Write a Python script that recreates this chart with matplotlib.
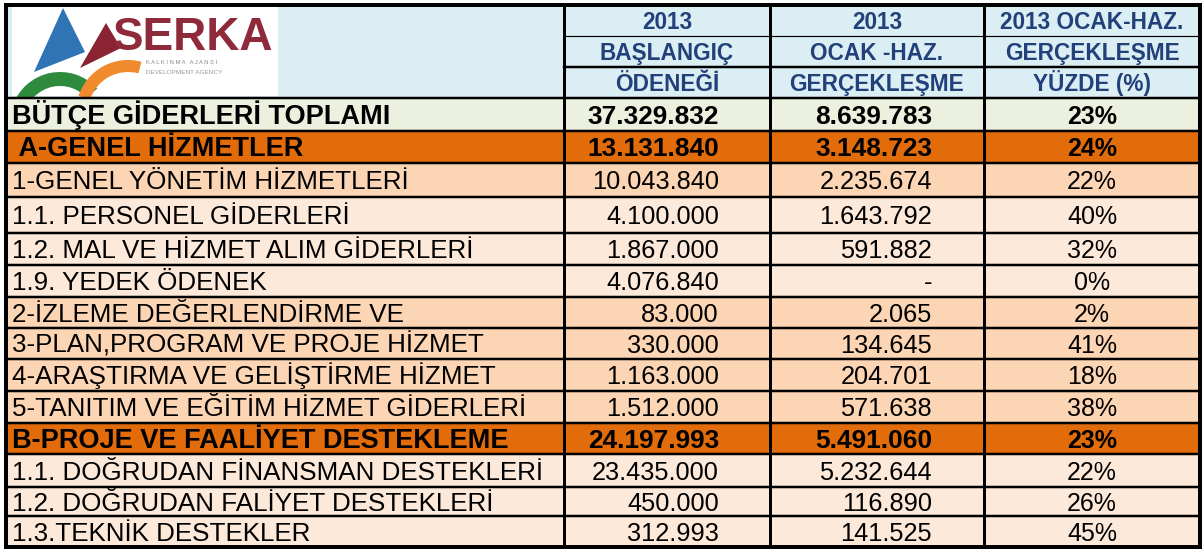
# SERKA 2013 butce tablosu (Ocak-Haziran gerceklesme)
import matplotlib
matplotlib.use("Agg")
import matplotlib.pyplot as plt
from matplotlib.patches import Rectangle, Polygon, Wedge

plt.rcParams['font.family'] = ['Liberation Sans', 'DejaVu Sans']

# ---- data ----
labels = [
    "BÜTÇE GİDERLERİ TOPLAMI",
    " A-GENEL HİZMETLER",
    "1-GENEL YÖNETİM HİZMETLERİ",
    "1.1. PERSONEL GİDERLERİ",
    "1.2. MAL VE HİZMET ALIM GİDERLERİ",
    "1.9. YEDEK ÖDENEK",
    "2-İZLEME DEĞERLENDİRME VE",
    "3-PLAN,PROGRAM VE PROJE HİZMET",
    "4-ARAŞTIRMA VE GELİŞTİRME HİZMET",
    "5-TANITIM VE EĞİTİM HİZMET GİDERLERİ",
    "B-PROJE VE FAALİYET DESTEKLEME",
    "1.1. DOĞRUDAN FİNANSMAN DESTEKLERİ",
    "1.2. DOĞRUDAN FALİYET DESTEKLERİ",
    "1.3.TEKNİK DESTEKLER",
]
baslangic = [37329832, 13131840, 10043840, 4100000, 1867000, 4076840, 83000,
             330000, 1163000, 1512000, 24197993, 23435000, 450000, 312993]
gerceklesme = [8639783, 3148723, 2235674, 1643792, 591882, None, 2065,
               134645, 204701, 571638, 5491060, 5232644, 116890, 141525]
yuzde = ["23%", "24%", "22%", "40%", "32%", "0%", "2%",
         "41%", "18%", "38%", "23%", "22%", "26%", "45%"]
kind = ["total", "main", "group", "item", "item", "item", "group",
        "group", "group", "group", "main", "item", "item", "item"]

hdr_col2 = ["2013", "BAŞLANGIÇ", "ÖDENEĞİ"]
hdr_col3 = ["2013", "OCAK -HAZ.", "GERÇEKLEŞME"]
hdr_col4 = ["2013 OCAK-HAZ.", "GERÇEKLEŞME", "YÜZDE (%)"]

# ---- layout / style ----
col_x = [6, 564, 770, 984, 1200]
hdr_y = [5, 36, 67, 98]
row_y = [98, 131, 163, 197, 233, 265, 297, 328, 359, 391, 423, 454, 487, 516, 547]

fill = {"total": "#EBF1DE", "main": "#E26B0A", "group": "#FCD5B4", "item": "#FDE9D9"}
bold = {"total": True, "main": True, "group": False, "item": False}
hdr_bg = "#DBEEF4"
hdr_fg = "#22407A"
hfs = 16.3

def fmt(v):
    if v is None:
        return "-"
    return f"{v:,}".replace(",", ".")

fig = plt.figure(figsize=(12.04, 5.49), dpi=100)
ax = fig.add_axes([0, 0, 1, 1])
ax.set_xlim(0, 1204)
ax.set_ylim(549, 0)
ax.axis('off')

# header background
ax.add_patch(Rectangle((col_x[0], hdr_y[0]), col_x[-1] - col_x[0], hdr_y[-1] - hdr_y[0],
                       facecolor=hdr_bg, edgecolor='none'))

# logo box
ax.add_patch(Rectangle((12, 7), 266, 89, facecolor='white', edgecolor='none'))
ax.add_patch(Polygon([(34, 72), (63, 8), (85, 52)], closed=True, facecolor='#2F74B5', edgecolor='none'))
ax.add_patch(Polygon([(80, 68), (106, 23), (121, 48)], closed=True, facecolor='#8A2432', edgecolor='none'))
ax.add_patch(Wedge((60, 122), 50, 198, 318, width=14, facecolor='#2E8B3E', edgecolor='none'))
ax.add_patch(Wedge((128, 112), 52, 198, 285, width=12, facecolor='#F08A2C', edgecolor='none'))
ax.text(113, 38, "SERKA", fontsize=33, fontweight='bold', color='#8E2A3A', va='center', ha='left')
ax.text(146, 63, "K A L K I N M A   A J A N S I", fontsize=4.2, color='#888888', va='center', ha='left')
ax.text(146, 73, "DEVELOPMENT AGENCY", fontsize=4.6, color='#999999', va='center', ha='left')

# header texts
for j, hdr in enumerate([hdr_col2, hdr_col3, hdr_col4]):
    cx = (col_x[j + 1] + col_x[j + 2]) / 2
    for i, t in enumerate(hdr):
        cy = (hdr_y[i] + hdr_y[i + 1]) / 2
        ax.text(cx, cy + 0.36 * hfs * 100 / 72, t, fontsize=hfs, fontweight='bold',
                color=hdr_fg, ha='center', va='baseline')

# body rows
for i, lab in enumerate(labels):
    y0, y1 = row_y[i], row_y[i + 1]
    ax.add_patch(Rectangle((col_x[0], y0), col_x[-1] - col_x[0], y1 - y0,
                           facecolor=fill[kind[i]], edgecolor='none'))
    b = bold[kind[i]]
    fw = 'bold' if b else 'normal'
    lfs = 19.5 if b else 18.7
    nfs = 18.9 if b else 18.3
    base = (y0 + y1) / 2 + 0.36 * nfs * 100 / 72
    ax.text(12, base, lab, fontsize=lfs, fontweight=fw, color='black', ha='left', va='baseline')
    ax.text(719, base, fmt(baslangic[i]), fontsize=nfs, fontweight=fw, ha='right', va='baseline')
    ax.text(932, base, fmt(gerceklesme[i]), fontsize=nfs, fontweight=fw, ha='right', va='baseline')
    ax.text((col_x[3] + col_x[4]) / 2, base, yuzde[i], fontsize=18, fontweight=fw,
            ha='center', va='baseline')

# grid lines
lw_px = 0.72
for y in row_y[1:-1]:
    ax.plot([col_x[0], col_x[-1]], [y, y], color='black', lw=2.5 * lw_px)
ax.plot([col_x[0], col_x[-1]], [hdr_y[-1], hdr_y[-1]], color='black', lw=2.5 * lw_px)
ax.plot([col_x[1], col_x[-1]], [hdr_y[1], hdr_y[1]], color='black', lw=1.2 * lw_px)
ax.plot([col_x[1], col_x[-1]], [hdr_y[2], hdr_y[2]], color='black', lw=2.5 * lw_px)
for x in col_x[1:-1]:
    ax.plot([x, x], [hdr_y[0], row_y[-1]], color='black', lw=3 * lw_px)
ax.add_patch(Rectangle((col_x[0], hdr_y[0]), col_x[-1] - col_x[0], row_y[-1] - hdr_y[0],
                       facecolor='none', edgecolor='black', lw=4 * lw_px))

fig.savefig("out.png", dpi=100)
